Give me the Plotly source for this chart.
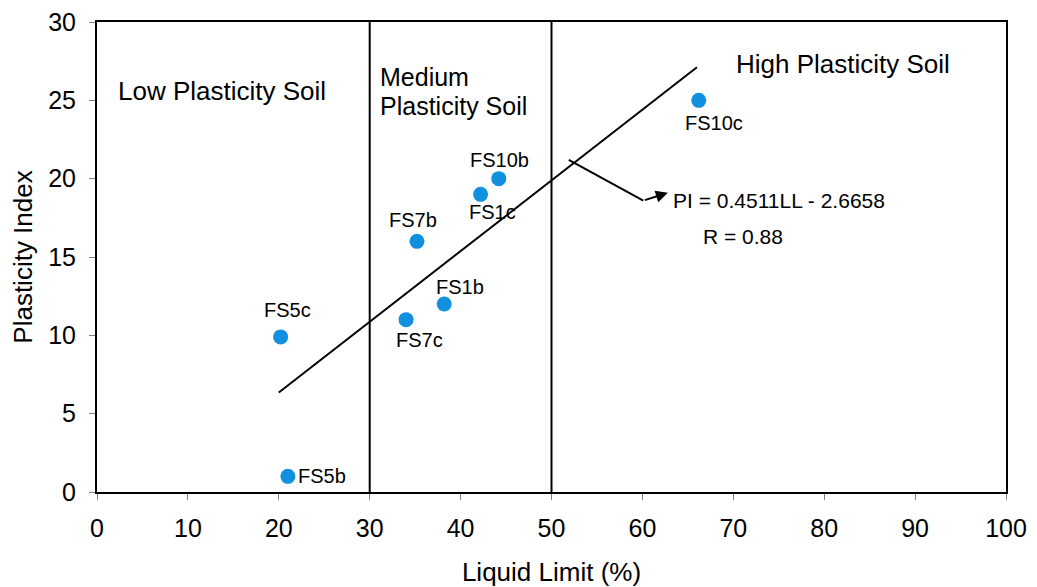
import plotly.graph_objects as go

# Data
labels = ["FS5b", "FS5c", "FS7c", "FS1b", "FS7b", "FS1c", "FS10b", "FS10c"]
liquid_limit = [21, 20.2, 34, 38.2, 35.2, 42.2, 44.2, 66.2]
plasticity_index = [1, 9.9, 11, 12, 16, 19, 20, 25]
slope, intercept = 0.4511, -2.6658
trend_x = [20, 66]
boundaries = [30, 50]

FONT = "Liberation Sans, Arial, sans-serif"
# label offsets (pixels) relative to each point
offsets = [(34, 0), (7, 27), (13, -20), (16, 17), (-4, 21), (12, -18), (1, 19), (15, -23)]

fig = go.Figure()

fig.add_trace(go.Scatter(
    x=trend_x, y=[slope * v + intercept for v in trend_x], mode="lines",
    line=dict(color="black", width=2), showlegend=False, hoverinfo="skip"))

fig.add_trace(go.Scatter(
    x=liquid_limit, y=plasticity_index, mode="markers",
    marker=dict(color="#1190df", size=15, line=dict(width=0)),
    showlegend=False))

for xb in boundaries:
    fig.add_shape(type="line", x0=xb, x1=xb, y0=0, y1=30, xref="x", yref="y",
                  line=dict(color="black", width=2))

annotations = []
for lab, xv, yv, (dx, dy) in zip(labels, liquid_limit, plasticity_index, offsets):
    annotations.append(dict(x=xv, y=yv, text=lab, showarrow=False, xshift=dx, yshift=dy,
                            font=dict(family=FONT, size=20, color="black")))

annotations += [
    dict(x=13.7, y=25.6, text="Low Plasticity Soil", showarrow=False,
         font=dict(family=FONT, size=26, color="black")),
    dict(x=30.9, y=26.5, text="Medium", showarrow=False, xanchor="left",
         font=dict(family=FONT, size=25, color="black")),
    dict(x=30.9, y=24.65, text="Plasticity Soil", showarrow=False, xanchor="left",
         font=dict(family=FONT, size=25, color="black")),
    dict(x=82.1, y=27.3, text="High Plasticity Soil", showarrow=False,
         font=dict(family=FONT, size=26, color="black")),
    dict(x=63.2, y=18.6, text="PI = 0.4511LL - 2.6658", showarrow=False, xanchor="left",
         font=dict(family=FONT, size=21, color="black")),
    dict(x=71.1, y=16.3, text="R = 0.88", showarrow=False,
         font=dict(family=FONT, size=21, color="black")),
    dict(x=62.8, y=19.1, ax=60.1, ay=18.6, xref="x", yref="y", axref="x", ayref="y",
         text="", showarrow=True, arrowhead=2, arrowsize=1.2, arrowwidth=2, arrowcolor="black"),
]

fig.add_shape(type="line", x0=51.9, y0=21.2, x1=60.1, y1=18.6, xref="x", yref="y",
              line=dict(color="black", width=2))

fig.update_layout(
    width=1037, height=587,
    margin=dict(l=97, r=31, t=22, b=95),
    paper_bgcolor="white", plot_bgcolor="white",
    font=dict(family=FONT, size=25, color="black"),
    annotations=annotations,
    xaxis=dict(range=[0, 100], dtick=10, showgrid=False, zeroline=False, automargin=False,
               showline=True, linecolor="black", linewidth=2, mirror=True,
               ticks="outside", ticklen=6, tickcolor="#808080", ticklabelstandoff=7,
               title=dict(text="Liquid Limit (%)", font=dict(size=26), standoff=25),
               tickfont=dict(size=25)),
    yaxis=dict(range=[0, 30], dtick=5, showgrid=False, zeroline=False, automargin=False,
               showline=True, linecolor="black", linewidth=2, mirror=True,
               ticks="outside", ticklen=6, tickcolor="#808080", ticklabelstandoff=8,
               title=dict(text="Plasticity Index", font=dict(size=26), standoff=8),
               tickfont=dict(size=25)),
)

fig.write_html("out.html")
